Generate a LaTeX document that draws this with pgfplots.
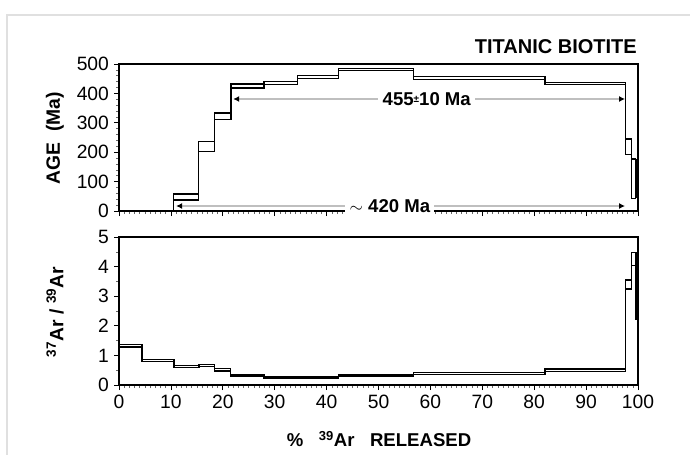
\documentclass[border=0pt]{standalone}
\usepackage{fontspec}
\setmainfont{Liberation Sans}
\usepackage{pgfplots}
\pgfplotsset{compat=1.18}
\usetikzlibrary{arrows.meta}
\newlength\px \setlength\px{0.7pt}

\begin{document}
\begin{tikzpicture}[x=\px,y=\px]
\useasboundingbox (0,0) rectangle (690,-455);
\draw[black!12, line width=1.5\px] (7,-455) -- (7,-15) -- (690,-15);

\pgfplotsset{every axis/.append style={
  scale only axis, width=519\px, xmin=0, xmax=100,
  axis line style={line width=1.4\px},
  tick align=outside, tick pos=left,
  major tick length=5\px, minor tick length=3\px,
  major tick style={black, line width=0.5pt},
  minor tick style={black!60, line width=0.4pt},
  xtick={0,10,...,100}, minor x tick num=9,
  tick label style={font=\fontsize{13.5}{15}\selectfont},
  /pgf/number format/assume math mode=true,
  clip=false,
}}

% age spectrum  (positions: 1px = 0.7pt)
\begin{axis}[at={(83.3pt,-147.7pt)}, anchor=south west, height=147\px,
  ymin=0, ymax=500, ytick={0,100,...,500}, minor y tick num=4,
  xticklabels={}]
  \addplot[const plot, black, line width=1pt] coordinates {
    (0,0) (10.5,58) (15.3,236) (18.4,334) (21.6,432) (27.9,440) (34.4,460)
    (42.3,485) (56.7,457) (82.1,438) (97.6,245) (98.8,177) (99.6,177)};
  \addplot[const plot, black, line width=1pt] coordinates {
    (10.5,37) (15.3,202) (18.4,312) (21.6,419) (27.9,430) (34.4,450)
    (42.3,477) (56.7,448) (82.1,430) (97.6,193) (98.8,43) (99.6,43)};
  \addplot[black, line width=1pt] coordinates {(99.6,43) (99.6,177)};
  \addplot[black, line width=1pt] coordinates {(10.5,0) (10.5,37)};

  \draw[black!25, line width=0.8pt,
    {Latex[black,length=4.2pt,width=4.2pt]}-{Latex[black,length=4.2pt,width=4.2pt]}]
    (axis cs:22,381) -- (axis cs:97.5,381);
  \node[fill=white, inner sep=3pt, font=\bfseries\fontsize{13}{14}\selectfont]
    at (axis cs:59.3,381) {455\raisebox{0.25ex}{\scriptsize ±}10 Ma};
  \draw[black!25, line width=0.8pt,
    {Latex[black,length=4.2pt,width=4.2pt]}-{Latex[black,length=4.2pt,width=4.2pt]}]
    (axis cs:11,17) -- (axis cs:97.5,17);
  \node[fill=white, inner sep=3pt, font=\bfseries\fontsize{13}{14}\selectfont]
    at (axis cs:52.2,17) {$\sim$ 420 Ma};
\end{axis}

% 37Ar/39Ar
\begin{axis}[at={(83.3pt,-269.5pt)}, anchor=south west, height=148\px,
  ymin=0, ymax=5, ytick={0,1,...,5}, minor y tick num=1]
  \addplot[const plot, black, line width=1pt] coordinates {
    (0,1.37) (4.4,0.87) (10.6,0.66) (15.4,0.70) (18.4,0.56) (21.5,0.34)
    (27.9,0.28) (42.3,0.34) (56.7,0.42) (82.1,0.54) (97.6,3.55) (98.8,4.48)
    (99.6,2.76) (100,2.76)};
  \addplot[const plot, black, line width=1pt] coordinates {
    (0,1.28) (4.4,0.80) (10.6,0.60) (15.4,0.62) (18.4,0.48) (21.5,0.28)
    (27.9,0.23) (42.3,0.28) (56.7,0.35) (82.1,0.46) (97.6,3.24) (98.8,4.03)
    (99.6,2.23) (100,2.23)};
\end{axis}

\node[anchor=base east, inner sep=0pt, font=\bfseries\fontsize{14}{15}\selectfont]
  at (637,-53) {TITANIC BIOTITE};
\node[rotate=90, font=\bfseries\fontsize{13.5}{14}\selectfont]
  at (55,-138) {AGE\ \ (Ma)};
\node[rotate=90, font=\bfseries\fontsize{13.5}{14}\selectfont]
  at (55,-312) {\textsuperscript{37}Ar / \textsuperscript{39}Ar};
\node[anchor=base, font=\bfseries\fontsize{13}{14}\selectfont]
  at (379,-446.7) {\%\ \ \ \textsuperscript{39}Ar\ \ \ RELEASED};
\end{tikzpicture}
\end{document}
